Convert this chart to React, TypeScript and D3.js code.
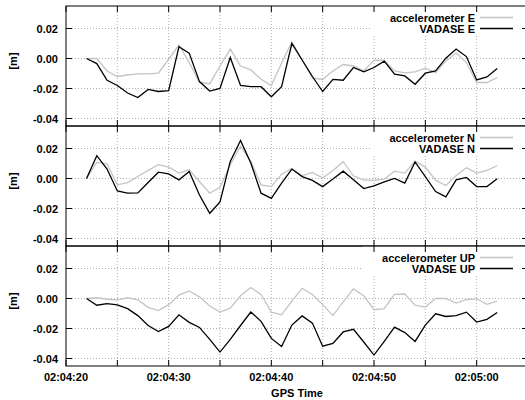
import React from "react";
import * as d3 from "d3";

// 1 Hz samples starting at 02:04:22 GPS time; axis runs 02:04:20 – 02:05:05
const axisStart = new Date(Date.UTC(2012, 4, 20, 2, 4, 20));
const axisEnd = new Date(Date.UTC(2012, 4, 20, 2, 5, 5));
const firstSample = new Date(Date.UTC(2012, 4, 20, 2, 4, 22));

// displacement [m]
const accE = [0, 0, -0.0083, -0.012, -0.011, -0.0103, -0.0103, -0.0098, -0.0005, 0.009, -0.0027, -0.016, -0.0168, -0.005, 0.0063, -0.005, -0.0076, -0.0139, -0.018, -0.003, 0.011, -0.001, -0.013, -0.014, -0.0083, -0.004, -0.005, -0.0083, -0.0011, -0.0013, -0.0083, -0.0096, -0.0089, -0.0065, -0.0094, -0.0016, 0.0036, -0.0027, -0.016, -0.016, -0.0127];
const vadE = [0, -0.0034, -0.0145, -0.018, -0.023, -0.026, -0.0206, -0.022, -0.0215, 0.0078, 0.0036, -0.0154, -0.0217, -0.02, 0.0007, -0.018, -0.0188, -0.0188, -0.0255, -0.0188, 0.01, -0.001, -0.012, -0.022, -0.0139, -0.0145, -0.006, -0.0089, -0.006, -0.0018, -0.0105, -0.0116, -0.0172, -0.0098, -0.0083, 0.0002, 0.0063, 0.0013, -0.0143, -0.0123, -0.0067];
const accN = [0, 0.0107, 0.0098, -0.0042, -0.0027, 0.0013, 0.0054, 0.0092, 0.0076, 0.0036, 0.0058, -0.002, -0.0098, -0.0058, 0.0092, 0.0215, 0.0114, -0.0042, -0.0054, 0.0029, 0.0067, 0.0018, 0.004, 0.0004, 0.0054, 0.0112, 0.0018, -0.0011, -0.0011, -0.0004, 0.0049, 0.0036, 0.0116, 0.0076, -0.0011, -0.0047, 0.002, 0.0072, 0.0036, 0.0054, 0.0085];
const vadN = [0, 0.0152, 0.0063, -0.0083, -0.0098, -0.0096, -0.0027, 0.0042, 0.0031, -0.0009, 0.0047, -0.011, -0.0232, -0.0156, 0.0114, 0.0253, 0.0103, -0.0098, -0.0132, -0.0031, 0.0063, 0.0013, -0.0013, -0.0054, -0.0004, 0.0049, -0.0009, -0.0067, -0.0049, -0.0022, 0, -0.0031, 0.011, 0.0013, -0.0087, -0.0123, -0.0009, 0.0007, -0.0054, -0.0054, -0.0002];
const accU = [0, 0.0005, -0.0005, -0.0009, 0.0005, -0.0009, -0.0059, -0.008, -0.0041, 0.0023, 0.005, 0.0011, -0.005, -0.0091, -0.0064, 0.0018, 0.0073, 0.0027, -0.0091, -0.0109, -0.0018, 0.0068, 0.0027, -0.0041, -0.0114, -0.0023, 0.0064, 0.0018, -0.0075, -0.0068, 0.0027, 0.003, -0.0045, -0.0057, 0, 0, -0.003, -0.0007, -0.0002, -0.0039, -0.0018];
const vadU = [0, -0.0045, -0.0034, -0.0043, -0.0068, -0.0114, -0.018, -0.022, -0.0186, -0.0109, -0.0159, -0.0193, -0.0273, -0.0357, -0.0273, -0.018, -0.009, -0.0152, -0.0266, -0.032, -0.0177, -0.0116, -0.0164, -0.0318, -0.03, -0.0223, -0.0205, -0.029, -0.0377, -0.0286, -0.0191, -0.0227, -0.0286, -0.0177, -0.0102, -0.012, -0.0114, -0.0091, -0.0157, -0.0139, -0.0093];

const yTicks = [0.02, 0, -0.02, -0.04];
const yDomain: [number, number] = [-0.045, 0.035];

const panels = [
  { acc: accE, vad: vadE, accLabel: "accelerometer E", vadLabel: "VADASE E" },
  { acc: accN, vad: vadN, accLabel: "accelerometer N", vadLabel: "VADASE N" },
  { acc: accU, vad: vadU, accLabel: "accelerometer UP", vadLabel: "VADASE UP" },
];

const W = 525;
const H = 400;
const left = 66;
const right = 528;
const top = 6;
const panelH = 120;
const font = "'Liberation Sans', Arial, Helvetica, sans-serif";
const gridColor = "#9a9a9a";
const accColor = "#c4c4c4";

const sampleTime = (i: number) => new Date(firstSample.getTime() + i * 1000);

export default function App() {
  const x = d3.scaleUtc().domain([axisStart, axisEnd]).range([left, right]);
  const minorTicks = x.ticks(d3.utcSecond.every(5)!);
  const labelTicks = x.ticks(d3.utcSecond.every(10)!);
  const fmt = d3.utcFormat("%H:%M:%S");
  const bottom = top + panelH * panels.length;

  return (
    <svg
      width={W}
      height={H}
      style={{ position: "absolute", left: 0, top: 0, background: "#fff" }}
      fontFamily={font}
      fontWeight="bold"
    >
      {panels.map((p, pi) => {
        const y0 = top + pi * panelH;
        const y1 = y0 + panelH;
        const y = d3.scaleLinear().domain(yDomain).range([y1, y0]);
        const line = d3
          .line<number>()
          .x((_, i) => x(sampleTime(i)))
          .y((v) => y(v));
        const legendTextX = 475;
        const row1 = y0 + 15.5;
        const row2 = y0 + 26.5;
        const boxLeft = pi === 2 ? 363 : 370;
        return (
          <g key={pi}>
            {/* grid */}
            {yTicks.map((t) => (
              <line
                key={"gy" + t}
                x1={left}
                x2={right}
                y1={y(t)}
                y2={y(t)}
                stroke={gridColor}
                strokeWidth={0.8}
                strokeDasharray="1,2"
              />
            ))}
            {minorTicks
              .filter((t) => +t > +axisStart && +t < +axisEnd)
              .map((t) => (
                <line
                  key={"gx" + +t}
                  x1={x(t)}
                  x2={x(t)}
                  y1={y0}
                  y2={y1}
                  stroke={gridColor}
                  strokeWidth={0.8}
                  strokeDasharray="1,2"
                />
              ))}
            {/* key box */}
            <rect x={boxLeft} y={y0 + 0.5} width={right - boxLeft} height={28} fill="#fff" />
            {/* series */}
            <path d={line(p.acc) ?? ""} fill="none" stroke={accColor} strokeWidth={1.3} />
            <path d={line(p.vad) ?? ""} fill="none" stroke="#000" strokeWidth={1.3} />
            {/* key */}
            <text x={legendTextX} y={row1} textAnchor="end" fontSize={11} fill="#000">
              {p.accLabel}
            </text>
            <text x={legendTextX} y={row2} textAnchor="end" fontSize={11} fill="#000">
              {p.vadLabel}
            </text>
            <line x1={480} x2={513} y1={row1 - 4} y2={row1 - 4} stroke={accColor} strokeWidth={1.3} />
            <line x1={480} x2={513} y1={row2 - 4} y2={row2 - 4} stroke="#000" strokeWidth={1.3} />
            {/* ticks */}
            {yTicks.map((t) => (
              <g key={"ty" + t}>
                <line x1={left} x2={left + 6} y1={y(t)} y2={y(t)} stroke="#000" strokeWidth={1} />
                <line x1={right - 6} x2={right} y1={y(t)} y2={y(t)} stroke="#000" strokeWidth={1} />
                <text x={58} y={y(t) + 4} textAnchor="end" fontSize={11} fill="#000">
                  {t.toFixed(2)}
                </text>
              </g>
            ))}
            {minorTicks.map((t) => (
              <g key={"tx" + +t}>
                <line x1={x(t)} x2={x(t)} y1={y1} y2={y1 - 6} stroke="#000" strokeWidth={1} />
                <line x1={x(t)} x2={x(t)} y1={y0} y2={y0 + 6} stroke="#000" strokeWidth={1} />
              </g>
            ))}
            {/* frame */}
            <rect x={left} y={y0} width={right - left} height={panelH} fill="none" stroke="#000" strokeWidth={1} />
            <text
              transform={`translate(13,${y0 + 55}) rotate(-90)`}
              textAnchor="middle"
              dominantBaseline="central"
              fontSize={11}
              fill="#000"
            >
              [m]
            </text>
          </g>
        );
      })}
      {labelTicks.map((t) => (
        <text key={"lx" + +t} x={x(t)} y={bottom + 15} textAnchor="middle" fontSize={11} fill="#000">
          {fmt(t)}
        </text>
      ))}
      <text x={(left + right) / 2} y={bottom + 31} textAnchor="middle" fontSize={11} fill="#000">
        GPS Time
      </text>
    </svg>
  );
}
